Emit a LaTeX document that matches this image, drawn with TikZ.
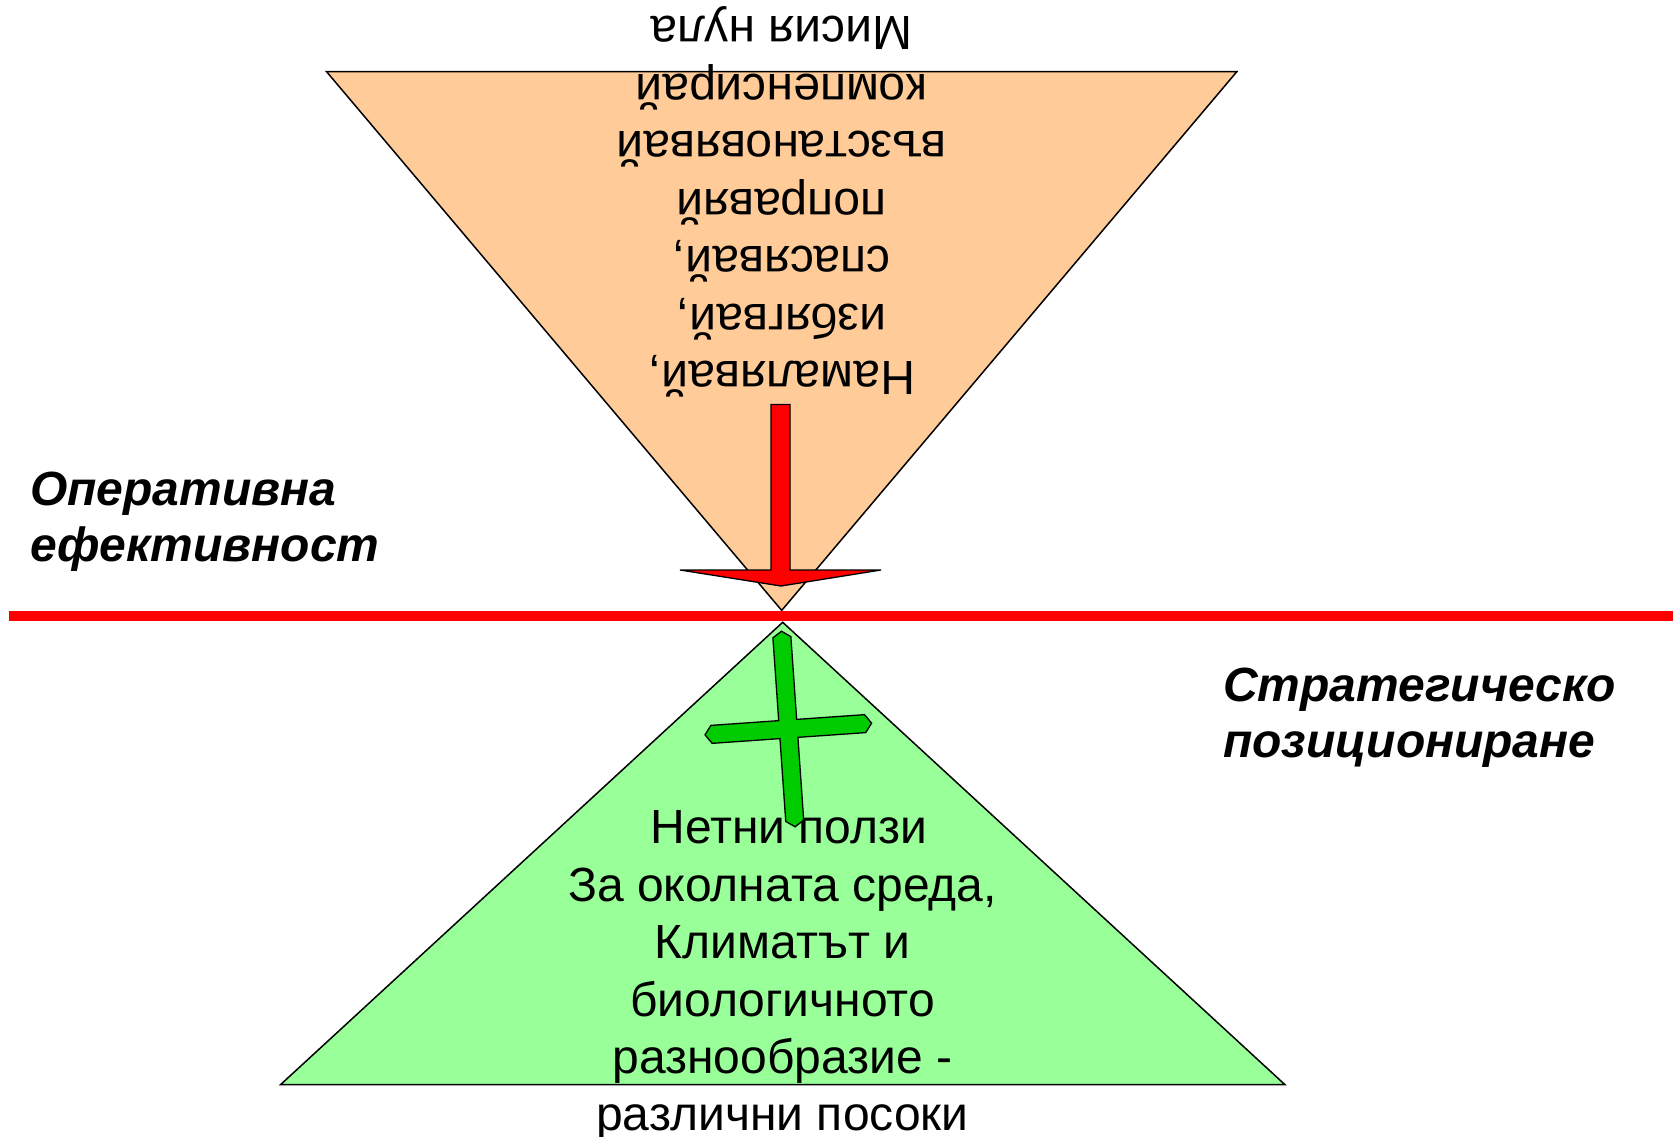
\documentclass[tikz,border=0pt]{standalone}
\usepackage{fontspec}
\setmainfont{Liberation Sans}
\definecolor{peach}{HTML}{FFCC99}
\definecolor{lightgreen}{HTML}{99FF99}
\definecolor{crossgreen}{HTML}{00CC00}
\begin{document}
\begin{tikzpicture}[x=1pt,y=-1pt,
  tri/.style={draw=black,line width=1.5pt,line join=miter},
  shape outline/.style={draw=black,line width=1.3pt,line join=miter},
  txt/.style={font=\fontsize{48}{57}\selectfont,inner sep=0pt,anchor=base},
  sidelabel/.style={font=\fontsize{48}{56}\selectfont\bfseries\itshape,inner sep=0pt,anchor=base west},
]
\useasboundingbox (0,0) rectangle (1679,1137);
\fill[white] (0,0) rectangle (1679,1137);

% upper triangle
\coordinate (utl) at (326.6,71.7);
\coordinate (utr) at (1236.8,71.7);
\coordinate (uap) at (781.7,610.4);
\filldraw[tri,fill=peach] (utl) -- (utr) -- (uap) -- cycle;

% lower triangle
\coordinate (lap) at (782.7,622.3);
\coordinate (lbl) at (280.5,1084.7);
\coordinate (lbr) at (1285,1084.7);
\filldraw[tri,fill=lightgreen] (lap) -- (lbr) -- (lbl) -- cycle;

% red separating line
\coordinate (rl1) at (8.6,615.5);
\coordinate (rl2) at (1672.6,615.5);
\draw[red,line width=10pt] (rl1) -- (rl2);

% red arrow
\filldraw[shape outline,fill=red] (680,570) -- (771,570) -- (771,404.5) -- (790,404.5) -- (790,570) -- (881,570) -- (781,586) -- cycle;

% upper text (upside down)
\node[txt,rotate=180] (u1) at (781.7,361.7) {Намалявай,};
\node[txt,rotate=180] (u2) at (781.7,304.2) {избягвай,};
\node[txt,rotate=180] (u3) at (781.7,246.8) {спасявай,};
\node[txt,rotate=180] (u4) at (781.7,189.3) {поправяй};
\node[txt,rotate=180] (u5) at (781.7,131.9) {възстановявай};
\node[txt,rotate=180] (u6) at (781.7,74.4) {компенсирай};
\node[txt,rotate=180] (u7) at (781.7,17.0) {Мисия нула};

% lower text
\node[txt] (l1) at (789,843.8) {Нетни ползи};
\node[txt] (l2) at (782.5,901.2) {За околната среда,};
\node[txt] (l3) at (782.5,958.6) {Климатът и};
\node[txt] (l4) at (782.5,1016.0) {биологичното};
\node[txt] (l5) at (782.5,1073.4) {разнообразие -};
\node[txt] (l6) at (782.5,1130.8) {различни посоки};

% green cross
\filldraw[shape outline,fill=crossgreen,shift={(788.3,729)},rotate=4]
  (0,-98) -- (9,-92) -- (9,-9) -- (77,-9) -- (83.5,0) -- (77,9) -- (9,9) -- (9,92)
  -- (0,98) -- (-9,92) -- (-9,9) -- (-77,9) -- (-83.5,0) -- (-77,-9) -- (-9,-9) -- (-9,-92) -- cycle;

% side labels
\node[sidelabel] (op1) at (30,505.4) {Оперативна};
\node[sidelabel] (op2) at (30,561.4) {ефективност};
\node[sidelabel] (st1) at (1223,701.4) {Стратегическо};
\node[sidelabel] (st2) at (1223,757.4) {позициониране};
\end{tikzpicture}
\end{document}
